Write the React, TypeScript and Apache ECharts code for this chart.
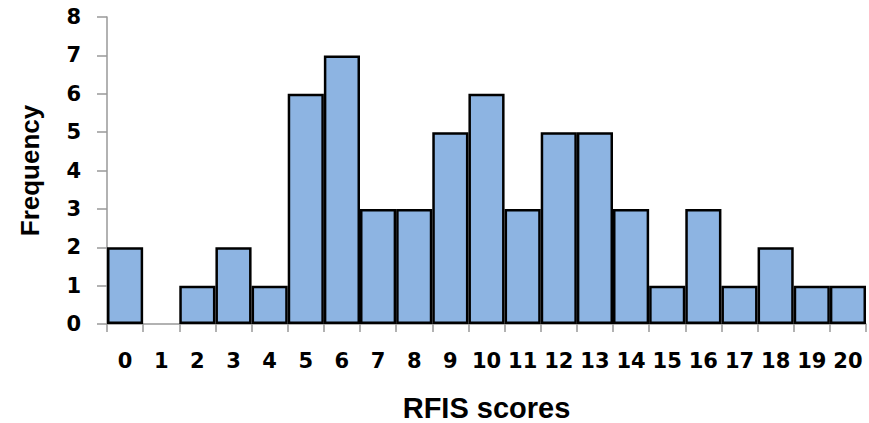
import React, { useEffect, useRef } from "react";
import * as echarts from "echarts";

const categories = ["0","1","2","3","4","5","6","7","8","9","10","11","12","13","14","15","16","17","18","19","20"];
const frequencies = [2,0,1,2,1,6,7,3,3,5,6,3,5,5,3,1,3,1,2,1,1];

export default function App() {
  const ref = useRef<HTMLDivElement>(null);
  useEffect(() => {
    if (!ref.current) return;
    const chart = echarts.init(ref.current, null, { renderer: "svg" });
    const font = "DejaVu Sans";
    const nameFont = "Liberation Sans";
    chart.setOption({
      animation: false,
      backgroundColor: "#ffffff",
      grid: { left: 107, right: 3, top: 17, bottom: 99, containLabel: false, outerBoundsMode: "none" },
      xAxis: {
        type: "category",
        data: categories,
        boundaryGap: true,
        name: "RFIS scores",
        nameLocation: "middle",
        nameGap: 69,
        nameTextStyle: { fontFamily: nameFont, fontWeight: "bold", fontSize: 29, lineHeight: 29, color: "#000" },
        axisLine: { lineStyle: { color: "#999", width: 1.5 } },
        axisTick: { show: true, alignWithLabel: false, length: 8, lineStyle: { color: "#999", width: 1.5 } },
        axisLabel: { margin: 26, fontFamily: font, fontWeight: "bold", fontSize: 21, color: "#000", interval: 0 },
        splitLine: { show: false },
      },
      yAxis: {
        type: "value",
        min: 0,
        max: 8,
        interval: 1,
        name: "Frequency",
        nameLocation: "middle",
        nameGap: 64,
        nameTextStyle: { fontFamily: nameFont, fontWeight: "bold", fontSize: 26, color: "#000" },
        axisLine: { show: true, lineStyle: { color: "#999", width: 1.5 } },
        axisTick: { show: true, length: 10, lineStyle: { color: "#999", width: 1.5 } },
        axisLabel: { margin: 26, fontFamily: font, fontWeight: "bold", fontSize: 21, color: "#000" },
        splitLine: { show: false },
      },
      series: [
        {
          type: "bar",
          data: frequencies.map((v) => (v === 0 ? { value: v, itemStyle: { borderWidth: 0 } } : v)),
          barCategoryGap: "0%",
          itemStyle: { color: "#8DB4E2", borderColor: "#000", borderWidth: 2.5 },
        },
      ],
    });
    return () => chart.dispose();
  }, []);
  return <div ref={ref} style={{ position: "fixed", left: 0, top: 0, width: 869, height: 423 }} />;
}
